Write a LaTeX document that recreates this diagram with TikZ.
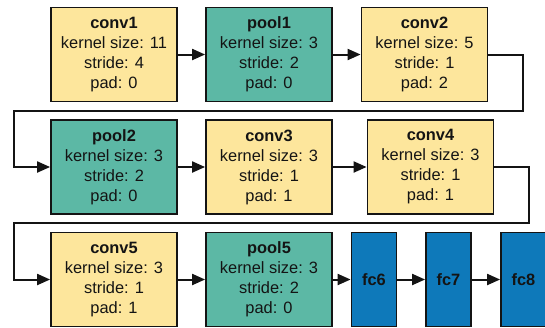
\documentclass[tikz,border=0pt]{standalone}
\usepackage{fontspec}
\setmainfont{Liberation Sans}
\usetikzlibrary{arrows.meta}
\definecolor{cyel}{HTML}{FDE69C}
\definecolor{cteal}{HTML}{5CB8A5}
\definecolor{cblue}{HTML}{0E79BA}
\definecolor{cline}{HTML}{141414}
\tikzset{
  layer/.style={draw=cline, line width=1.8pt, minimum width=126pt, minimum height=94pt,
    inner sep=0pt, align=center, text=cline, font=\fontsize{16.4}{20}\selectfont},
  convbox/.style={layer, fill=cyel},
  poolbox/.style={layer, fill=cteal},
  fcbox/.style={layer, fill=cblue, minimum width=45pt, font=\fontsize{16.4}{20}\selectfont\bfseries},
  conn/.style={draw=cline, line width=2pt, -{Triangle[length=13pt,width=11pt]}},
}
\begin{document}
\begin{tikzpicture}[x=1pt,y=1pt]
\useasboundingbox (0,0) rectangle (545,-327);
\node[convbox] (conv1) at (114,-54.5) {\textbf{conv1}\\kernel size: 11\\stride: 4\\pad: 0};
\node[poolbox] (pool1) at (269,-54.5) {\textbf{pool1}\\kernel size: 3\\stride: 2\\pad: 0};
\node[convbox] (conv2) at (424.5,-54.5) {\textbf{conv2}\\kernel size: 5\\stride: 1\\pad: 2};
\node[poolbox] (pool2) at (114,-167) {\textbf{pool2}\\kernel size: 3\\stride: 2\\pad: 0};
\node[convbox] (conv3) at (269,-167) {\textbf{conv3}\\kernel size: 3\\stride: 1\\pad: 1};
\node[convbox] (conv4) at (430.5,-167) {\textbf{conv4}\\kernel size: 3\\stride: 1\\pad: 1};
\node[convbox] (conv5) at (114,-279.5) {\textbf{conv5}\\kernel size: 3\\stride: 1\\pad: 1};
\node[poolbox] (pool5) at (269,-279.5) {\textbf{pool5}\\kernel size: 3\\stride: 2\\pad: 0};
\node[fcbox] (fc6) at (374,-279.5) {fc6};
\node[fcbox] (fc7) at (448.5,-279.5) {fc7};
\node[fcbox] (fc8) at (523.5,-279.5) {fc8};
\coordinate (r1) at (523,-111);
\coordinate (l1) at (14,-111);
\coordinate (r2) at (529,-223);
\coordinate (l2) at (14,-223);
\draw[conn] (conv1) -- (pool1);
\draw[conn] (pool1) -- (conv2);
\draw[conn] (conv2.east) -| (r1) -- (l1) |- (pool2.west);
\draw[conn] (pool2) -- (conv3);
\draw[conn] (conv3) -- (conv4);
\draw[conn] (conv4.east) -| (r2) -- (l2) |- (conv5.west);
\draw[conn] (conv5) -- (pool5);
\draw[conn] (pool5) -- (fc6);
\draw[conn] (fc6) -- (fc7);
\draw[conn] (fc7) -- (fc8);
\end{tikzpicture}
\end{document}
